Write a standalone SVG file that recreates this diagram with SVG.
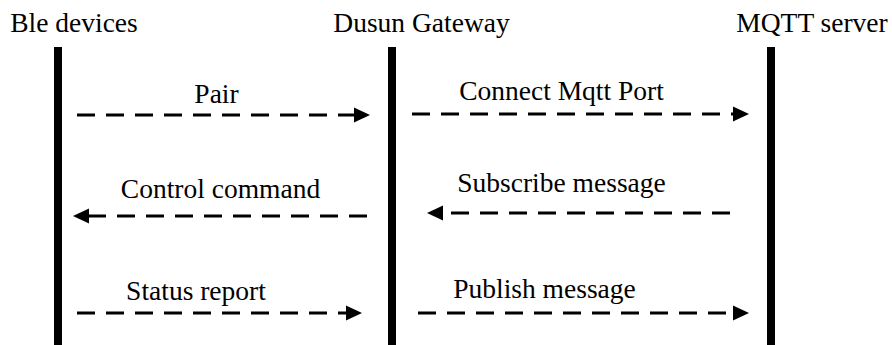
<svg xmlns="http://www.w3.org/2000/svg" width="892" height="345" viewBox="0 0 892 345">
<style>
text{font-family:"Liberation Serif","Times New Roman",serif;font-size:27.5px;fill:#000;text-anchor:middle}
.life{fill:#000}
.msg{stroke:#000;stroke-width:3;stroke-dasharray:18 11;fill:none}
</style>
<defs>
<marker id="ah" markerUnits="userSpaceOnUse" markerWidth="16" markerHeight="16" viewBox="0 0 15 14" refX="0" refY="7" orient="auto">
<polygon points="0,0 15,7 0,14" fill="#000"/>
</marker>
</defs>
<rect width="892" height="345" fill="#fff"/>
<g id="ble">
<text x="74" y="32">Ble devices</text>
<rect class="life" x="54" y="47" width="8" height="298"/>
</g>
<g id="gateway">
<text x="421.5" y="32">Dusun Gateway</text>
<rect class="life" x="388" y="47" width="8" height="298"/>
</g>
<g id="mqtt">
<text x="812" y="32">MQTT server</text>
<rect class="life" x="767" y="47" width="8" height="298"/>
</g>
<g id="connectors">
<path class="msg" d="M77 115H354" marker-end="url(#ah)"/>
<text x="216.5" y="103">Pair</text>
<path class="msg" d="M412 114H733" marker-end="url(#ah)"/>
<text x="561.5" y="100">Connect Mqtt Port</text>
<path class="msg" d="M367 216H89" marker-end="url(#ah)"/>
<text x="220.5" y="198">Control command</text>
<path class="msg" d="M730 213H443" marker-end="url(#ah)"/>
<text x="561.5" y="192">Subscribe message</text>
<path class="msg" d="M77 313H346" marker-end="url(#ah)"/>
<text x="196" y="300">Status report</text>
<path class="msg" d="M418 313H733" marker-end="url(#ah)"/>
<text x="544.5" y="298">Publish message</text>
</g>
</svg>
